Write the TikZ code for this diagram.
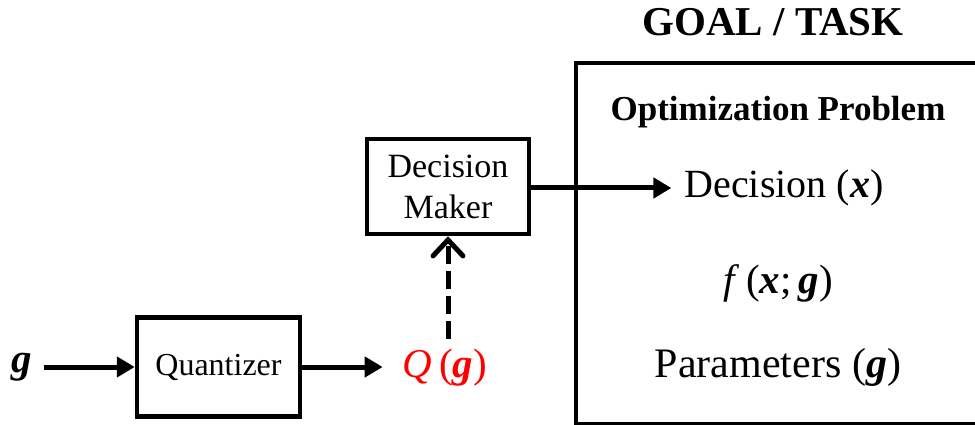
\documentclass[tikz,border=0pt]{standalone}
\usepackage{fontspec}
\setmainfont{Liberation Serif}
\usetikzlibrary{arrows.meta}
\definecolor{qred}{RGB}{255,0,0}
\newcommand{\bv}[1]{\textbf{\textit{#1}}}
\begin{document}
\begin{tikzpicture}[x=1pt,y=-1pt,
  blk/.style={draw, line width=4.5pt, inner sep=0pt, align=center},
  arr/.style={line width=5pt, -{Triangle[length=18pt,width=20pt]}},
  dasharr/.style={line width=5pt, dash pattern=on 18pt off 7pt,
    -{Straight Barb[length=16pt,width=30pt,line width=5pt,line cap=round]}},
  lbl/.style={inner sep=0pt, anchor=center}
]
\useasboundingbox (0,0) rectangle (975,425);

% problem box, running off the right edge
\draw[line width=4.5pt] (1000,63) -- (576,63) -- (576,424) -- (1000,424);
\node[lbl, font=\fontsize{41}{48}\selectfont\bfseries] (goal) at (773,22) {GOAL / TASK};
\node[lbl, font=\fontsize{35}{42}\selectfont\bfseries] (opt) at (778,112) {Optimization Problem};
\node[lbl, font=\fontsize{40}{48}\selectfont] (dec) at (784,188) {Decision (\bv{x})};
\node[lbl, font=\fontsize{41}{48}\selectfont] (obj) at (778,283) {\textit{f}\,(\bv{x};\,\bv{g})};
\node[lbl, font=\fontsize{42}{50}\selectfont] (par) at (778,367) {Parameters (\bv{g})};

% processing blocks
\node[blk, minimum width=163pt, minimum height=99pt,
      font=\fontsize{32}{38}\selectfont] (quant) at (218.5,367) {Quantizer};
\node[blk, minimum width=162pt, minimum height=95pt,
      font=\fontsize{34}{41}\selectfont] (dm) at (448,186.5) {Decision\\Maker};

% input and quantized signal
\node[lbl, font=\fontsize{41}{48}\selectfont] (gin) at (22,367) {\bv{g}};
\node[lbl, font=\fontsize{41}{48}\selectfont, text=qred] (qg) at (445,368) {\textit{Q}\,(\bv{g})};

% connectors
\draw[arr] ([xshift=12pt]gin.east |- quant.west) -- (quant.west);
\draw[arr] (quant.east) -- ([xshift=-20pt]qg.west |- quant.east);
\draw[dasharr] ([yshift=10pt]qg.north -| dm.south) -- (dm.south);
\draw[arr] (dm.east |- dec.west) -- ([xshift=-13pt]dec.west);
\end{tikzpicture}
\end{document}
